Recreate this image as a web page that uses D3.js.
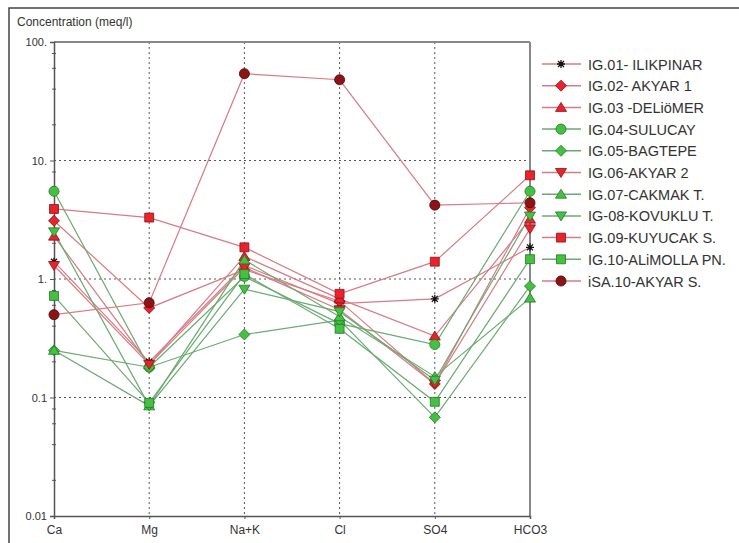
<!DOCTYPE html>
<html>
<head>
<meta charset="utf-8">
<script src="https://cdn.jsdelivr.net/npm/d3@7"></script>
<style>
  body { margin: 0; background: #fff; }
  svg { font-family: "Liberation Sans", Arial, sans-serif; }
</style>
</head>
<body>
<div id="chart"></div>
<script>
// ions on the x axis
var ions = ["Ca", "Mg", "Na+K", "Cl", "SO4", "HCO3"];
var yTicks = [100, 10, 1, 0.1, 0.01];
var yTickLabels = ["100.", "10.", "1.", "0.1", "0.01"];

// sample names (legend order)
var samples = ["IG.01- ILIKPINAR", "IG.02- AKYAR 1", "IG.03 -DELiöMER", "IG.04-SULUCAY",
  "IG.05-BAGTEPE", "IG.06-AKYAR 2", "IG.07-CAKMAK T.", "IG-08-KOVUKLU T.",
  "IG.09-KUYUCAK S.", "IG.10-ALiMOLLA PN.", "iSA.10-AKYAR S."];

// concentrations (meq/l), one array per sample: Ca, Mg, Na+K, Cl, SO4, HCO3
var ig01 = [1.4, 0.2, 1.3, 0.62, 0.68, 1.85];
var ig02 = [3.1, 0.57, 1.2, 0.65, 0.13, 4.0];
var ig03 = [2.3, 0.19, 1.55, 0.68, 0.33, 3.2];
var ig04 = [5.5, 0.18, 1.05, 0.42, 0.28, 5.5];
var ig05 = [0.25, 0.18, 0.34, 0.45, 0.068, 0.87];
var ig06 = [1.3, 0.19, 1.25, 0.55, 0.13, 2.65];
var ig07 = [0.25, 0.085, 1.45, 0.48, 0.15, 0.69];
var ig08 = [2.5, 0.085, 0.82, 0.53, 0.14, 3.4];
var ig09 = [3.9, 3.3, 1.85, 0.75, 1.4, 7.5];
var ig10 = [0.72, 0.09, 1.1, 0.38, 0.092, 1.47];
var isa10 = [0.5, 0.63, 54, 48, 4.2, 4.4];

var values = [ig01, ig02, ig03, ig04, ig05, ig06, ig07, ig08, ig09, ig10, isa10];
var kinds = ["star", "red", "red", "green", "green", "red", "green", "green", "red", "green", "dark"];
var shapes = ["star", "diamond", "triangle", "circle", "diamond", "triangleDown",
  "triangle", "triangleDown", "square", "square", "circle"];

var svgWidth = 739;
var svgHeight = 543;
var plot = { left: 54, right: 530, top: 42, bottom: 516 };

var styles = {
  star:  { line: "#d97a84", fill: "#111", stroke: "#111" },
  red:   { line: "#d97a84", fill: "#e8232b", stroke: "#8e1015" },
  green: { line: "#6aaa72", fill: "#45c043", stroke: "#1f7a25" },
  dark:  { line: "#d97a84", fill: "#8c1414", stroke: "#4a0505" }
};

var svg = d3.select("#chart").append("svg")
  .attr("width", svgWidth)
  .attr("height", svgHeight);

// outer frame
svg.append("rect")
  .attr("x", 9).attr("y", 8)
  .attr("width", 800).attr("height", 600)
  .attr("fill", "none")
  .attr("stroke", "#444")
  .attr("stroke-width", 1.5);

var x = d3.scalePoint().domain(ions).range([plot.left, plot.right]);
var y = d3.scaleLog().domain([0.01, 100]).range([plot.bottom, plot.top]);

// grid
svg.append("g").selectAll("line")
  .data(yTicks.slice(1, 4))
  .enter().append("line")
  .attr("x1", plot.left).attr("x2", plot.right)
  .attr("y1", function(d) { return y(d); })
  .attr("y2", function(d) { return y(d); })
  .attr("stroke", "#555")
  .attr("stroke-dasharray", "2,3");

svg.append("g").selectAll("line")
  .data(ions.slice(1, 5))
  .enter().append("line")
  .attr("x1", function(d) { return x(d); })
  .attr("x2", function(d) { return x(d); })
  .attr("y1", plot.top).attr("y2", plot.bottom)
  .attr("stroke", "#555")
  .attr("stroke-dasharray", "2,3");

// frame of plot
svg.append("line")
  .attr("x1", plot.left).attr("x2", plot.right)
  .attr("y1", plot.top).attr("y2", plot.top)
  .attr("stroke", "#888").attr("stroke-width", 2);
svg.append("line")
  .attr("x1", plot.right).attr("x2", plot.right)
  .attr("y1", plot.top).attr("y2", plot.bottom)
  .attr("stroke", "#888").attr("stroke-width", 2);

// y axis with minor ticks
var minor = [];
[0.01, 0.1, 1, 10].forEach(function(dec) {
  [2, 4, 6, 8].forEach(function(m) { minor.push(dec * m); });
});
var leftAxis = d3.axisLeft(y)
  .tickValues(yTicks)
  .tickFormat(function(d) { return yTickLabels[yTicks.indexOf(d)]; })
  .tickSize(4)
  .tickPadding(3);
var yAxis = svg.append("g")
  .attr("transform", "translate(" + plot.left + ",0)")
  .call(leftAxis);
yAxis.select(".domain").attr("stroke", "#555").attr("stroke-width", 1.5);
yAxis.selectAll("text").attr("fill", "#333").style("font-size", "11px");
yAxis.selectAll("line").attr("stroke", "#555");

svg.append("g").selectAll("line")
  .data(minor)
  .enter().append("line")
  .attr("x1", plot.left - 2).attr("x2", plot.left + 2)
  .attr("y1", function(d) { return y(d); })
  .attr("y2", function(d) { return y(d); })
  .attr("stroke", "#555");

// x axis
var bottomAxis = d3.axisBottom(x).tickSize(3).tickPadding(6);
var xAxis = svg.append("g")
  .attr("transform", "translate(0," + plot.bottom + ")")
  .call(bottomAxis);
xAxis.select(".domain").attr("stroke", "#555").attr("stroke-width", 1.5);
xAxis.selectAll("text").attr("fill", "#333").style("font-size", "12px");
xAxis.selectAll("line").attr("stroke", "#555");

// y title
svg.append("text")
  .attr("x", 17).attr("y", 26)
  .attr("fill", "#333")
  .style("font-size", "12px")
  .text("Concentration (meq/l)");

function symbolPath(shape) {
  if (shape == "circle") return d3.symbol().type(d3.symbolCircle).size(80)();
  if (shape == "square") return d3.symbol().type(d3.symbolSquare).size(80)();
  if (shape == "diamond") return "M0,-5.5L5.5,0L0,5.5L-5.5,0Z";
  if (shape == "triangle") return "M0,-5L5.5,4L-5.5,4Z";
  if (shape == "triangleDown") return "M0,5L5.5,-4L-5.5,-4Z";
  return "M-4,0L4,0M0,-4L0,4M-3,-3L3,3M-3,3L3,-3";
}

var line = d3.line()
  .x(function(d, i) { return x(ions[i]); })
  .y(function(d) { return y(d); });

// lines
svg.append("g").selectAll("path")
  .data(values)
  .enter().append("path")
  .attr("d", line)
  .attr("fill", "none")
  .attr("stroke", function(d, i) { return styles[kinds[i]].line; })
  .attr("stroke-width", 1.2);

// markers
values.forEach(function(vals, s) {
  var st = styles[kinds[s]];
  svg.append("g").selectAll("path")
    .data(vals)
    .enter().append("path")
    .attr("transform", function(d, i) { return "translate(" + x(ions[i]) + "," + y(d) + ")"; })
    .attr("d", symbolPath(shapes[s]))
    .attr("fill", st.fill)
    .attr("stroke", st.stroke)
    .attr("stroke-width", shapes[s] == "star" ? 1.3 : 0.8);
});

// legend
var legend = svg.append("g").selectAll("g")
  .data(samples)
  .enter().append("g")
  .attr("transform", function(d, i) { return "translate(0," + (64 + i * 21.7) + ")"; });

legend.append("line")
  .attr("x1", 542).attr("x2", 581)
  .attr("stroke", function(d, i) { return styles[kinds[i]].line; })
  .attr("stroke-width", 1.5);
legend.append("path")
  .attr("transform", "translate(561,0)")
  .attr("d", function(d, i) { return symbolPath(shapes[i]); })
  .attr("fill", function(d, i) { return styles[kinds[i]].fill; })
  .attr("stroke", function(d, i) { return styles[kinds[i]].stroke; })
  .attr("stroke-width", function(d, i) { return shapes[i] == "star" ? 1.3 : 0.8; });
legend.append("text")
  .attr("x", 588).attr("y", 5.5)
  .attr("fill", "#333")
  .style("font-size", "14.5px")
  .text(function(d) { return d; });
</script>
</body>
</html>
